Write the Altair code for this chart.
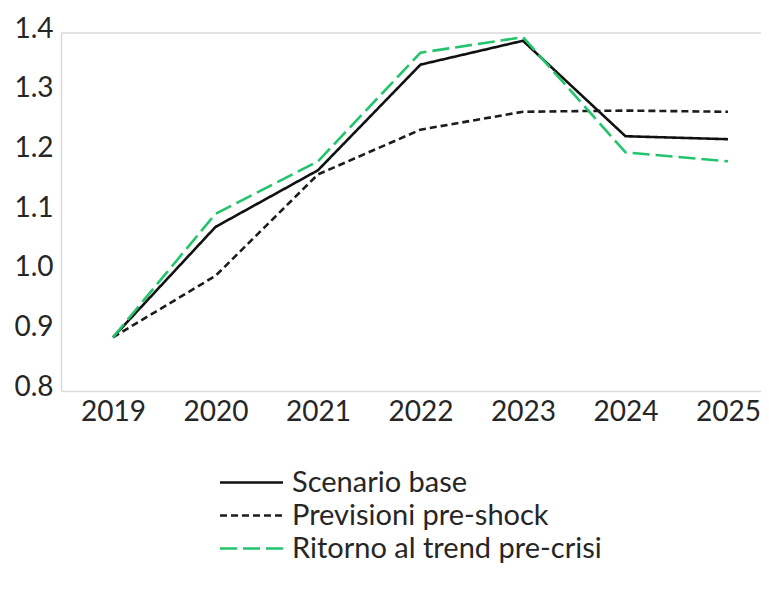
import altair as alt
import pandas as pd

years = [2019, 2020, 2021, 2022, 2023, 2024, 2025]
series_names = ["Scenario base", "Previsioni pre-shock", "Ritorno al trend pre-crisi"]
scenario_base = [0.89, 1.075, 1.170, 1.347, 1.387, 1.227, 1.222]
previsioni_pre_shock = [0.89, 0.993, 1.163, 1.238, 1.268, 1.270, 1.268]
ritorno_trend = [0.89, 1.097, 1.185, 1.367, 1.393, 1.200, 1.185]
y_ticks = [0.8, 0.9, 1.0, 1.1, 1.2, 1.3, 1.4]

rows = []
for name, vals in zip(series_names, [scenario_base, previsioni_pre_shock, ritorno_trend]):
    for yr, v in zip(years, vals):
        rows.append({"anno": yr, "valore": v, "serie": name})
df = pd.DataFrame(rows)

FONT = "Lato"
TXT = "#262626"
GRID = "#d9d9d9"

x_enc = alt.X(
    "anno:Q",
    scale=alt.Scale(domain=[2018.4927, 2025.322], nice=False, zero=False),
    axis=alt.Axis(values=years, format="d", title=None, ticks=False, grid=False,
                  domainColor=GRID, domainWidth=1.5, labelFont=FONT, labelFontSize=28,
                  labelColor=TXT, labelPadding=7, labelFlush=False),
)
y_enc = alt.Y(
    "valore:Q",
    scale=alt.Scale(domain=[0.8, 1.4], nice=False, zero=False),
    axis=alt.Axis(values=y_ticks, format=".1f", title=None, ticks=False, grid=False,
                  domainColor=GRID, domainWidth=1.5, labelFont=FONT, labelFontSize=28,
                  labelColor=TXT, labelPadding=8, labelOffset=-4),
)

lines = alt.Chart(df).mark_line(strokeWidth=2.6).encode(
    x=x_enc,
    y=y_enc,
    color=alt.Color("serie:N", scale=alt.Scale(domain=series_names,
                                               range=["#111111", "#1c1c1c", "#22c46c"]),
                    sort=series_names, title=None),
    strokeDash=alt.StrokeDash("serie:N", scale=alt.Scale(domain=series_names,
                                                         range=[[1, 0], [7, 4], [17, 6]]),
                              sort=series_names, title=None),
    order=alt.Order("anno:Q"),
)

top_border = alt.Chart(pd.DataFrame({"v": [1.4]})).mark_rule(color=GRID, strokeWidth=1.5).encode(
    y=alt.Y("v:Q", scale=alt.Scale(domain=[0.8, 1.4], nice=False, zero=False))
)

chart = alt.layer(top_border, lines).properties(
    width=700, height=358,
    autosize=alt.AutoSizeParams(type="none"),
    padding={"left": 53, "top": 25, "right": 0, "bottom": 192},
).configure_view(stroke=None).configure_legend(
    orient="none", legendX=176, legendY=435,
    symbolType="M-3,0H3", symbolSize=441, symbolStrokeWidth=2.6,
    labelFont=FONT, labelFontSize=29, labelColor=TXT, labelOffset=26,
    rowPadding=3, padding=0, labelLimit=500,
)

chart.save("out.html", embed_options={"renderer": "svg", "actions": False})
